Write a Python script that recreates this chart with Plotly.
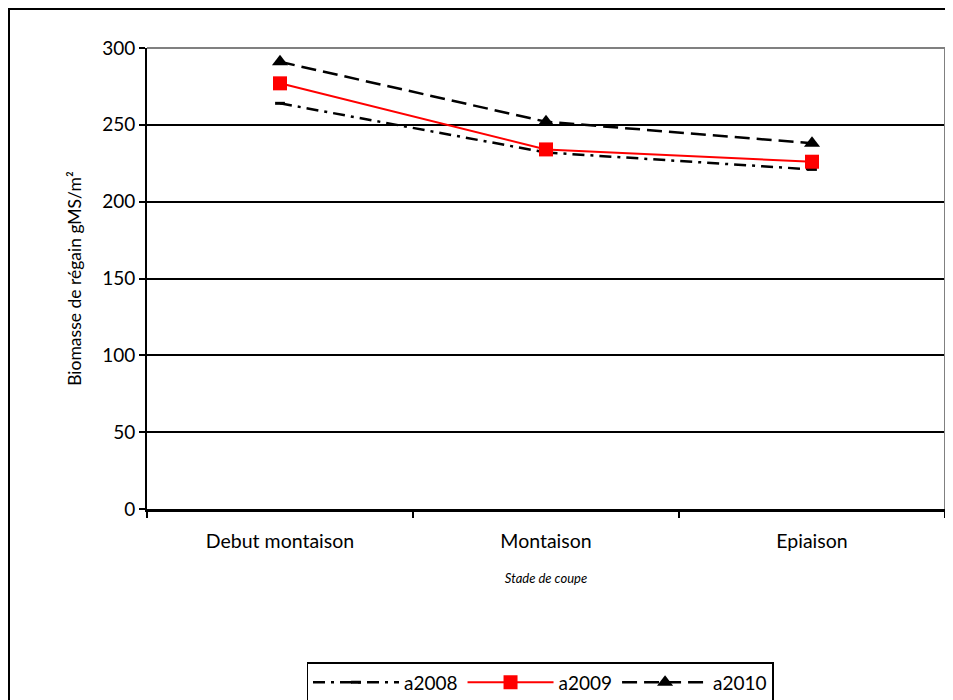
import plotly.graph_objects as go

categories = ["Debut montaison", "Montaison", "Epiaison"]
a2008 = [264, 232, 221]
a2009 = [277, 234, 226]
a2010 = [291, 252, 238]
y_ticks = [0, 50, 100, 150, 200, 250, 300]

FONT = "Lato"
fig = go.Figure()
fig.add_trace(go.Scatter(x=categories, y=a2008, name="a2008", mode="lines+markers",
                         line=dict(color="black", width=2.5, dash="12px,6px,3px,6px"),
                         marker=dict(symbol="line-ew-open", size=7, line=dict(color="black", width=3))))
fig.add_trace(go.Scatter(x=categories, y=a2009, name="a2009", mode="lines+markers",
                         line=dict(color="#ff0000", width=2),
                         marker=dict(symbol="square", size=14, color="#ff0000")))
fig.add_trace(go.Scatter(x=categories, y=a2010, name="a2010", mode="lines+markers",
                         line=dict(color="black", width=2.5, dash="15px,7px"),
                         marker=dict(symbol="triangle-up", size=14, color="black")))

L, R, T, B = 139, 16, 40, 199
PW, PH = 953 - L - R, 700 - T - B

# page body has an 8px margin; compensate so the plot area lands at x 147-945, y 48-509
fig.update_layout(
    width=953, height=700,
    margin=dict(l=L, r=R, t=T, b=B, autoexpand=False),
    paper_bgcolor="white", plot_bgcolor="white",
    font=dict(family=FONT, size=19, color="black"),
    showlegend=True,
    legend=dict(orientation="h", x=(540 - 8 - L) / PW, xanchor="center",
                yref="container", y=(700 - 654) / 700, yanchor="top",
                bordercolor="black", borderwidth=1.5, font=dict(size=19, family=FONT),
                itemwidth=86),
    xaxis=dict(type="category", range=[-0.5, 2.5], tickson="boundaries", ticks="outside",
               ticklen=6, tickcolor="black", tickwidth=2, showgrid=False, showline=True,
               linecolor="black", linewidth=2.5, mirror=False, ticklabelstandoff=13,
               tickfont=dict(size=19.5, family=FONT),
               title=dict(text="<i>Stade de coupe</i>", font=dict(size=13, family=FONT), standoff=23)),
    yaxis=dict(range=[0, 300], tickvals=y_ticks, ticks="outside", ticklen=6, tickcolor="black",
               tickwidth=2, showgrid=True, gridcolor="black", gridwidth=2, showline=True,
               linecolor="black", linewidth=2, zeroline=False,
               tickfont=dict(size=19, family=FONT),
               title=dict(text="Biomasse de régain gMS/m²", font=dict(size=17.5, family=FONT), standoff=16)),
    shapes=[
        dict(type="rect", xref="paper", yref="paper", x0=(1 - L) / PW, y0=-0.6, x1=1.2,
             y1=1 + (T - 1) / PH, line=dict(color="black", width=2), layer="below"),
        dict(type="line", xref="paper", yref="paper", x0=0, x1=1, y0=1, y1=1,
             line=dict(color="#808080", width=2)),
        dict(type="line", xref="paper", yref="paper", x0=1, x1=1, y0=0, y1=1,
             line=dict(color="#808080", width=2)),
    ],
)
fig.write_html("out.html")
